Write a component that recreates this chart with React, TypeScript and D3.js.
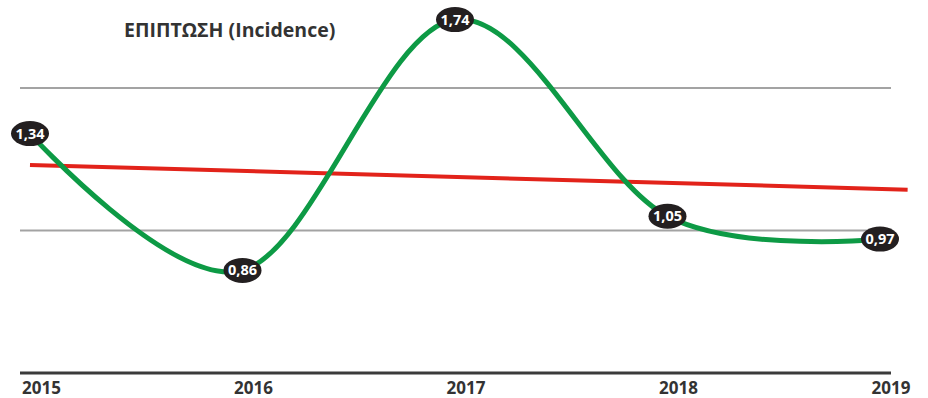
import React from "react";
import * as d3 from "d3";

// Incidence per year, with the reference trend drawn in red
const years = [2015, 2016, 2017, 2018, 2019];
const incidence = [1.34, 0.86, 1.74, 1.05, 0.97];
const trendYears = [2015, 2019];
const trendValues = [1.23, 1.146];
const gridValues = [1.0, 1.5];
const title = "ΕΠΙΠΤΩΣΗ (Incidence)";

const W = 928;
const H = 398;
const FONT = "'Open Sans', 'Noto Sans', sans-serif";

export default function App() {
  const x = d3.scaleLinear().domain([2015, 2019]).range([30, 880]);
  const y = d3.scaleLinear().domain([0.5, 1.5]).range([373, 88]);

  const pts = years.map((yr, i) => ({ yr, v: incidence[i] }));
  const line = d3
    .line<{ yr: number; v: number }>()
    .x((d) => x(d.yr))
    .y((d) => y(d.v))
    .curve(d3.curveCardinal.tension(0));

  // trend line runs a little past the last year
  const slope = (trendValues[1] - trendValues[0]) / (trendYears[1] - trendYears[0]);
  const trendEnd = 2019.13;
  const trendPts = [
    { yr: trendYears[0], v: trendValues[0] },
    { yr: trendEnd, v: trendValues[0] + slope * (trendEnd - trendYears[0]) },
  ];
  const trendLine = d3
    .line<{ yr: number; v: number }>()
    .x((d) => x(d.yr))
    .y((d) => y(d.v));

  const fmt = (v: number) => v.toFixed(2).replace(".", ",");
  const left = 20;
  const right = 891;

  return (
    <svg
      width={W}
      height={H}
      style={{ position: "absolute", left: 0, top: 0, background: "#fff" }}
      fontFamily={FONT}
    >
      <text x={124} y={37} fontSize={19.5} fontWeight={700} fill="#333">
        {title}
      </text>

      {gridValues.map((g) => (
        <line
          key={g}
          x1={left}
          x2={right}
          y1={y(g)}
          y2={y(g)}
          stroke="#a3a3a3"
          strokeWidth={2}
        />
      ))}
      <line
        x1={left}
        x2={right}
        y1={y(0.5)}
        y2={y(0.5)}
        stroke="#3b3b3b"
        strokeWidth={3}
      />

      {years.map((yr, i) => (
        <text
          key={yr}
          x={x(yr) + 11}
          y={394}
          fontSize={17}
          fontWeight={700}
          fill="#333"
          textAnchor={i === 0 ? "start" : "middle"}
          dx={i === 0 ? -19 : 0}
        >
          {yr}
        </text>
      ))}

      <path
        d={trendLine(trendPts) || ""}
        fill="none"
        stroke="#e2231a"
        strokeWidth={4}
      />
      <path
        d={line(pts) || ""}
        fill="none"
        stroke="#0d9a45"
        strokeWidth={5}
        strokeLinecap="round"
      />

      {pts.map((d) => (
        <g key={d.yr} transform={`translate(${x(d.yr)},${y(d.v)})`}>
          <ellipse rx={19} ry={12.5} fill="#231f20" />
          <text
            y={5}
            textAnchor="middle"
            fontSize={14.5}
            fontWeight={700}
            fill="#fff"
          >
            {fmt(d.v)}
          </text>
        </g>
      ))}
    </svg>
  );
}
